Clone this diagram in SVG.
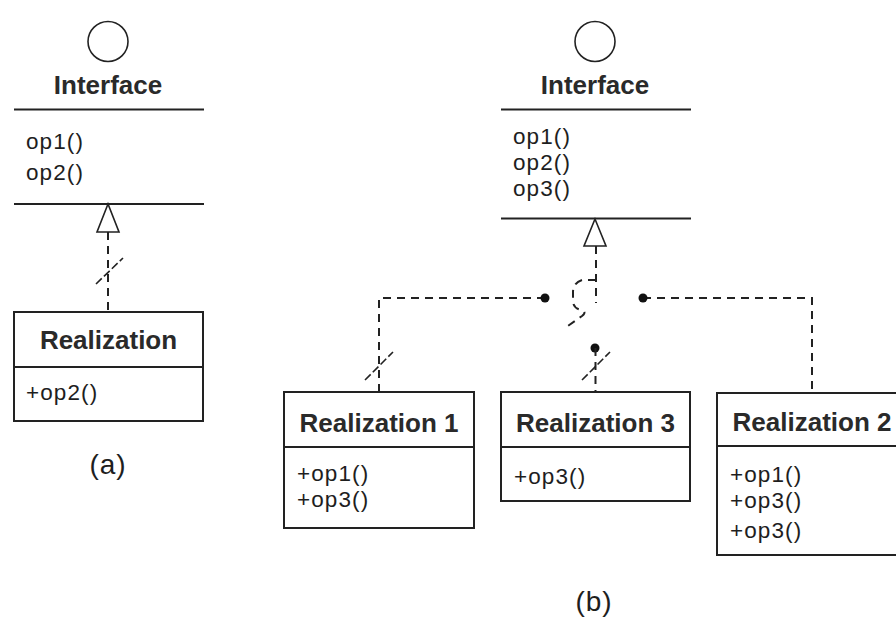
<svg xmlns="http://www.w3.org/2000/svg" width="896" height="617" viewBox="0 0 896 617">
<style>
.bg{fill:#fff}
.box{fill:#fff;stroke:#222;stroke-width:2}
.ln{stroke:#222;stroke-width:2;fill:none}
.ic{fill:#fff;stroke:#222;stroke-width:1.6}
.tri{fill:#fff;stroke:#222;stroke-width:1.6}
.dash{stroke:#222;stroke-width:2;fill:none;stroke-dasharray:8,6}
.sl{stroke:#222;stroke-width:1.6;fill:none;stroke-dasharray:8,3}
.dot{fill:#111}
.t{font-family:"Liberation Sans",Arial,sans-serif;fill:#1e1e1e}
.b{font-size:26px;font-weight:bold;text-anchor:middle;fill:#2a2a2a}
.n{font-size:22.5px;letter-spacing:1.1px}
.lab{font-size:28px;text-anchor:middle;letter-spacing:1px}
</style>
<rect class="bg" x="0" y="0" width="896" height="617"/>

<g id="interface-a">
  <circle class="ic" cx="108" cy="41.5" r="20"/>
  <text class="t b" x="108" y="94">Interface</text>
  <line class="ln" x1="14" y1="109.5" x2="204" y2="109.5"/>
  <text class="t n" x="26" y="149">op1()</text>
  <text class="t n" x="26" y="180">op2()</text>
  <line class="ln" x1="14" y1="204" x2="204" y2="204"/>
</g>

<g id="realization-a">
  <rect class="box" x="14" y="312" width="189" height="109"/>
  <line class="ln" x1="14" y1="367" x2="203" y2="367"/>
  <text class="t b" x="108.5" y="349">Realization</text>
  <text class="t n" x="26" y="400">+op2()</text>
</g>

<g id="interface-b">
  <circle class="ic" cx="595" cy="41.5" r="20"/>
  <text class="t b" x="595" y="94">Interface</text>
  <line class="ln" x1="501" y1="109.5" x2="691" y2="109.5"/>
  <text class="t n" x="513" y="144">op1()</text>
  <text class="t n" x="513" y="169.5">op2()</text>
  <text class="t n" x="513" y="196">op3()</text>
  <line class="ln" x1="501" y1="218.5" x2="691" y2="218.5"/>
</g>

<g id="realization-1">
  <rect class="box" x="284" y="392" width="190" height="136"/>
  <line class="ln" x1="284" y1="447" x2="474" y2="447"/>
  <text class="t b" x="379" y="432">Realization 1</text>
  <text class="t n" x="297" y="481">+op1()</text>
  <text class="t n" x="297" y="506.5">+op3()</text>
</g>

<g id="realization-3">
  <rect class="box" x="501" y="392" width="189" height="109"/>
  <line class="ln" x1="501" y1="447" x2="690" y2="447"/>
  <text class="t b" x="595.5" y="432">Realization 3</text>
  <text class="t n" x="514" y="484">+op3()</text>
</g>

<g id="realization-2">
  <rect class="box" x="717" y="393" width="190" height="162"/>
  <line class="ln" x1="717" y1="446" x2="907" y2="446"/>
  <text class="t b" x="812" y="431">Realization 2</text>
  <text class="t n" x="730" y="482">+op1()</text>
  <text class="t n" x="730" y="508">+op3()</text>
  <text class="t n" x="730" y="538">+op3()</text>
</g>

<g id="labels">
  <text class="t lab" x="108" y="474">(a)</text>
  <text class="t lab" x="594" y="611">(b)</text>
</g>

<g id="connectors">
  <!-- (a) -->
  <line class="dash" x1="108" y1="232" x2="108" y2="312"/>
  <polygon class="tri" points="108,204 97,232 119,232"/>
  <line class="sl" x1="96" y1="284" x2="123" y2="258"/>

  <!-- (b) interface realization -->
  <line class="dash" x1="596" y1="246" x2="596" y2="303"/>
  <polygon class="tri" points="595,219 584,246 606,246"/>
  <path class="dash" d="M596,280 H582 Q573,283 573,292 V302 Q574,309 582,310 Q587,312 582,316 L565,328" stroke-dasharray="14,3"/>

  <!-- left branch to Realization 1 -->
  <polyline class="dash" points="545,298 379,298 379,392"/>
  <circle class="dot" cx="545" cy="298" r="4.5"/>
  <line class="sl" x1="365" y1="380" x2="393" y2="352"/>

  <!-- right branch to Realization 2 -->
  <polyline class="dash" points="643,298 812,298 812,393"/>
  <circle class="dot" cx="643" cy="298" r="4.5"/>

  <!-- middle to Realization 3 -->
  <circle class="dot" cx="595" cy="348" r="4.5"/>
  <line class="dash" x1="595.5" y1="348" x2="595.5" y2="392" stroke-dasharray="10,4"/>
  <line class="sl" x1="582" y1="380" x2="610" y2="352"/>
</g>
</svg>
